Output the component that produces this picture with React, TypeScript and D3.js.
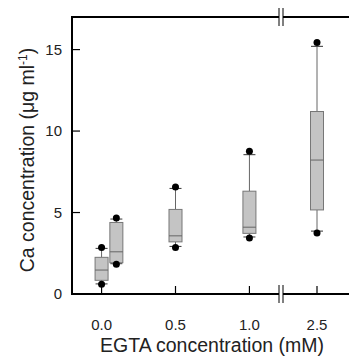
import React from "react";
import * as d3 from "d3";

// EGTA concentration (mM) of each box
const groups = [0, 0.1, 0.5, 1.0, 2.5];
const whiskerLow = [0.62, 1.86, 2.92, 3.5, 3.86];
const q1 = [0.84, 1.92, 3.2, 3.72, 5.16];
const median = [1.47, 2.59, 3.57, 4.1, 8.22];
const q3 = [2.25, 4.39, 5.19, 6.31, 11.2];
const whiskerHigh = [2.8, 4.6, 6.48, 8.55, 15.2];
const outlierLow = [0.6, 1.82, 2.86, 3.43, 3.75];
const outlierHigh = [2.86, 4.67, 6.57, 8.76, 15.43];

const xTicks = [0, 0.5, 1.0, 2.5];
const yTicks = [0, 5, 10, 15];

const W = 349;
const H = 357;
const margin = { left: 72, top: 17, bottom: 294 };

export default function App() {
  // broken x axis: linear part up to 1.2, then jump to 2.5 region
  const x = d3
    .scaleLinear()
    .domain([-0.2, 1.2, 2.25, 2.75])
    .range([margin.left, 279, 283, 351]);
  const y = d3.scaleLinear().domain([0, 17]).range([margin.bottom, margin.top]);

  const boxW = 13;
  const capW = 12;
  const breakX1 = 279;
  const breakX2 = 283;
  const font = "Arial, 'Liberation Sans', sans-serif";

  const breakMarks = (yy: number) => (
    <g>
      <rect x={breakX1} y={yy - 2} width={breakX2 - breakX1} height={4} fill="white" />
      <line x1={breakX1} x2={breakX1} y1={yy - 9} y2={yy + 9} stroke="#000" strokeWidth={1} />
      <line x1={breakX2} x2={breakX2} y1={yy - 9} y2={yy + 9} stroke="#000" strokeWidth={1} />
    </g>
  );

  return (
    <svg
      width={W}
      height={H}
      style={{ position: "absolute", left: 0, top: 0, background: "white" }}
    >
      {/* frame */}
      <line x1={margin.left} x2={margin.left} y1={margin.top} y2={margin.bottom + 1} stroke="#000" strokeWidth={2} />
      <line x1={margin.left - 1} x2={W} y1={margin.bottom} y2={margin.bottom} stroke="#000" strokeWidth={2} />
      <line x1={margin.left - 1} x2={W} y1={margin.top} y2={margin.top} stroke="#000" strokeWidth={2} />
      {breakMarks(margin.top)}
      {breakMarks(margin.bottom)}

      {/* y ticks */}
      {yTicks.map((t) => (
        <g key={"y" + t}>
          {t > 0 && (
            <line x1={margin.left} x2={margin.left + 8} y1={y(t)} y2={y(t)} stroke="#000" strokeWidth={1.2} />
          )}
          <text
            x={62}
            y={y(t)}
            dy="0.36em"
            textAnchor="end"
            fontFamily={font}
            fontSize={15}
            fill="#222"
          >
            {t}
          </text>
        </g>
      ))}

      {/* x ticks */}
      {xTicks.map((t) => (
        <g key={"x" + t}>
          <line x1={x(t)} x2={x(t)} y1={margin.bottom} y2={margin.bottom - 8} stroke="#000" strokeWidth={1.2} />
          <text
            x={x(t)}
            y={330}
            textAnchor="middle"
            fontFamily={font}
            fontSize={15}
            fill="#222"
          >
            {t.toFixed(1)}
          </text>
        </g>
      ))}

      {/* boxes */}
      {groups.map((g, i) => {
        const cx = x(g);
        return (
          <g key={"b" + i}>
            <line x1={cx} x2={cx} y1={y(whiskerLow[i])} y2={y(q1[i])} stroke="#666" strokeWidth={1} />
            <line x1={cx} x2={cx} y1={y(q3[i])} y2={y(whiskerHigh[i])} stroke="#666" strokeWidth={1} />
            <line x1={cx - capW / 2} x2={cx + capW / 2} y1={y(whiskerLow[i])} y2={y(whiskerLow[i])} stroke="#333" strokeWidth={1} />
            <line x1={cx - capW / 2} x2={cx + capW / 2} y1={y(whiskerHigh[i])} y2={y(whiskerHigh[i])} stroke="#333" strokeWidth={1} />
            <rect
              x={cx - boxW / 2}
              y={y(q3[i])}
              width={boxW}
              height={y(q1[i]) - y(q3[i])}
              fill="#c4c4c4"
              stroke="#777"
              strokeWidth={1}
            />
            <line x1={cx - boxW / 2} x2={cx + boxW / 2} y1={y(median[i])} y2={y(median[i])} stroke="#666" strokeWidth={1} />
            <circle cx={cx} cy={y(outlierLow[i])} r={3.5} fill="#000" />
            <circle cx={cx} cy={y(outlierHigh[i])} r={3.5} fill="#000" />
          </g>
        );
      })}

      {/* axis titles */}
      <text x={212} y={352} textAnchor="middle" fontFamily={font} fontSize={19.5} fill="#222">
        EGTA concentration (mM)
      </text>
      <text
        transform={`translate(34,${160}) rotate(-90)`}
        textAnchor="middle"
        fontFamily={font}
        fontSize={19.5}
        fill="#222"
      >
        Ca concentration (μg ml
        <tspan dy={-7} fontSize={12}>-1</tspan>
        <tspan dy={7}>)</tspan>
      </text>
    </svg>
  );
}
